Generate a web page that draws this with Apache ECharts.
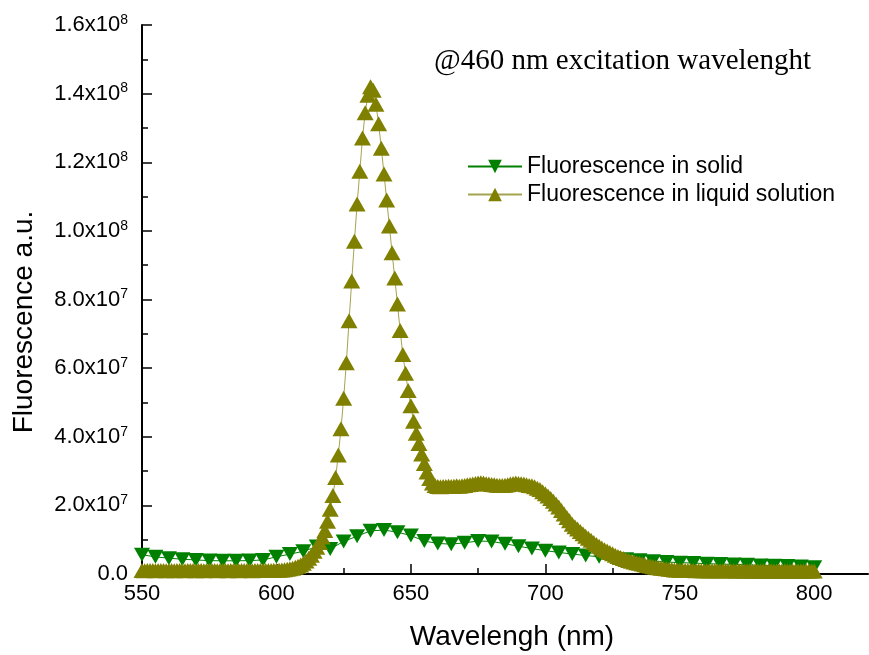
<!DOCTYPE html>
<html>
<head>
<meta charset="utf-8">
<script src="https://cdn.jsdelivr.net/npm/echarts@6/dist/echarts.min.js"></script>
<style>
html,body{margin:0;padding:0;background:#fff;}
#chart{width:869px;height:655px;}
</style>
</head>
<body>
<div id="chart"></div>
<script>
// ---- data (values in units of 1e6 a.u.) ----
const liquidStartNm = 550;   // first wavelength of liquid spectrum
const liquidStepNm = 1;      // sampling step (nm)
const liquidValues = [
  1.00,0.98,1.02,0.99,1.01,0.97,1.00,1.03,0.99,0.98,
  1.00,1.02,0.97,0.99,1.01,1.00,0.98,1.02,0.99,1.00,
  0.97,1.01,1.00,0.98,1.02,0.99,1.00,1.01,0.98,0.99,
  1.02,1.00,0.97,0.99,1.01,1.00,0.98,1.03,1.00,0.99,
  1.01,0.98,1.00,1.02,0.99,1.00,1.03,1.01,1.04,1.06,
  1.08,1.12,1.18,1.25,1.35,1.50,1.70,1.95,2.25,2.60,
  3.1,3.8,4.6,5.5,6.6,7.8,9.2,10.8,12.7,15.4,
  18.9,22.9,28.1,34.7,42.3,51.2,61.6,73.8,85.4,97.0,
  107.8,117.4,127.1,134.4,139.5,142.0,141.0,136.9,131.2,124.1,
  116.6,109.0,101.4,93.6,86.3,78.7,71.0,64.0,58.5,53.5,
  49.0,44.5,41.0,38.0,35.0,32.2,29.7,27.8,26.5,25.8,
  25.5,25.4,25.5,25.5,25.6,25.5,25.6,25.7,25.6,25.7,
  25.8,26.0,26.1,26.2,26.4,26.5,26.6,26.5,26.3,26.2,
  26.1,26.0,25.9,25.8,25.8,25.9,26.0,26.2,26.4,26.5,
  26.4,26.3,26.2,26.0,25.8,25.7,25.4,25.0,24.6,24.0,
  23.4,22.7,22.0,21.2,20.4,19.5,18.5,17.5,16.5,15.5,
  14.5,13.8,13.1,12.4,11.7,11.0,10.4,9.8,9.2,8.6,
  8.1,7.6,7.1,6.7,6.3,5.9,5.5,5.1,4.8,4.5,
  4.2,3.9,3.7,3.5,3.3,3.1,2.9,2.7,2.5,2.3,
  2.1,2.0,1.8,1.7,1.6,1.5,1.4,1.3,1.2,1.15,
  1.10,1.08,1.05,1.03,1.00,0.99,0.98,1.00,0.97,0.98,
  0.96,0.97,0.95,0.96,0.94,0.95,0.93,0.94,0.95,0.92,
  0.93,0.91,0.92,0.93,0.90,0.91,0.92,0.89,0.90,0.91,
  0.89,0.90,0.88,0.89,0.90,0.87,0.88,0.89,0.87,0.88,
  0.86,0.87,0.88,0.86,0.85,0.87,0.86,0.85,0.86,0.84,
  0.85
];
const solidStartNm = 550;
const solidStepNm = 5;
const solidValues = [
  5.6,5.0,4.6,4.3,4.1,3.9,3.85,3.85,3.9,4.1,
  5.0,5.8,6.6,8.0,7.3,9.5,11.0,12.6,12.8,12.2,
  11.2,9.6,8.9,8.7,9.1,9.6,9.5,8.8,8.1,7.4,
  6.8,6.3,5.8,5.4,5.0,4.6,4.3,4.0,3.7,3.5,
  3.3,3.2,3.0,2.9,2.8,2.7,2.5,2.4,2.3,2.2,
  2.0
];
const xMajorTicks = [550, 600, 650, 700, 750, 800];
const xMinorTicks = [575, 625, 675, 725, 775];
const yTickLabels = [
  ['0.0', ''], ['2.0x10', '7'], ['4.0x10', '7'], ['6.0x10', '7'], ['8.0x10', '7'],
  ['1.0x10', '8'], ['1.2x10', '8'], ['1.4x10', '8'], ['1.6x10', '8']
];
const seriesNames = ['Fluorescence in solid', 'Fluorescence in liquid solution'];
const unit = 1e6;

const liquidData = liquidValues.map((v, i) => [liquidStartNm + i * liquidStepNm, v * unit]);
const solidData = solidValues.map((v, i) => [solidStartNm + i * solidStepNm, v * unit]);

const SANS = '"Liberation Sans", Arial, sans-serif';
const chart = echarts.init(document.getElementById('chart'), null, {renderer: 'canvas'});
chart.setOption({
  animation: false,
  backgroundColor: '#fff',
  grid: {left: 142, right: 1, top: 25, bottom: 81, containLabel: false},
  xAxis: [{
    type: 'value', min: 550, max: 820, interval: 50,
    axisLine: {show: true, lineStyle: {color: '#000', width: 2}},
    axisTick: {show: true, inside: true, length: 10, lineStyle: {color: '#000', width: 1.5}, customValues: xMajorTicks},
    axisLabel: {show: true, customValues: xMajorTicks, color: '#000', fontSize: 22, fontFamily: SANS, margin: 9},
    splitLine: {show: false}
  }, {
    type: 'value', min: 550, max: 820, position: 'bottom',
    axisLine: {show: false},
    axisTick: {show: true, inside: true, length: 6, lineStyle: {color: '#000', width: 1.5}, customValues: xMinorTicks},
    axisLabel: {show: false},
    splitLine: {show: false}
  }],
  yAxis: {
    type: 'value', min: 0, max: 1.6e8, interval: 2e7,
    axisLine: {show: true, lineStyle: {color: '#000', width: 2}},
    axisTick: {show: true, inside: true, length: 10, lineStyle: {color: '#000', width: 1.5}},
    minorTick: {show: true, splitNumber: 2, length: 6, lineStyle: {color: '#000', width: 1.5}},
    splitLine: {show: false},
    axisLabel: {
      margin: 14,
      formatter: function (v) {
        const idx = Math.round(v / 2e7);
        const t = yTickLabels[idx];
        if (!t) return '';
        return t[1] ? '{m|' + t[0] + '}{e|' + t[1] + '}' : '{m|' + t[0] + '}';
      },
      rich: {
        m: {fontSize: 22, fontFamily: SANS, color: '#000', lineHeight: 24},
        e: {fontSize: 14, fontFamily: SANS, color: '#000', lineHeight: 14, verticalAlign: 'top'}
      }
    }
  },
  legend: {
    orient: 'vertical', left: 462, top: 150,
    itemWidth: 54, itemHeight: 17, itemGap: 5,
    data: seriesNames,
    textStyle: {fontSize: 23, fontFamily: SANS, color: '#000'},
    selectedMode: false
  },
  graphic: [
    {type: 'text', left: 434, top: 47, style: {text: '@460 nm excitation wavelenght', font: '29px "Liberation Serif", "Times New Roman", serif', fill: '#000'}},
    {type: 'text', x: 512, y: 637, style: {text: 'Wavelengh (nm)', font: '28px ' + SANS, fill: '#000', textAlign: 'center', textVerticalAlign: 'middle'}},
    {type: 'text', x: 24, y: 322, rotation: Math.PI / 2, style: {text: 'Fluorescence a.u.', font: '28px ' + SANS, fill: '#000', textAlign: 'center', textVerticalAlign: 'middle'}}
  ],
  series: [{
    name: seriesNames[0], type: 'line', data: solidData,
    symbol: 'triangle', symbolRotate: 180, symbolSize: [16, 14],
    showAllSymbol: true,
    lineStyle: {color: '#008000', width: 1},
    itemStyle: {color: '#008000'},
    z: 3
  }, {
    name: seriesNames[1], type: 'line', data: liquidData,
    symbol: 'triangle', symbolSize: [17, 15],
    showAllSymbol: true,
    lineStyle: {color: '#a4a450', width: 1},
    itemStyle: {color: '#808000'},
    z: 4
  }]
});
</script>
</body>
</html>
